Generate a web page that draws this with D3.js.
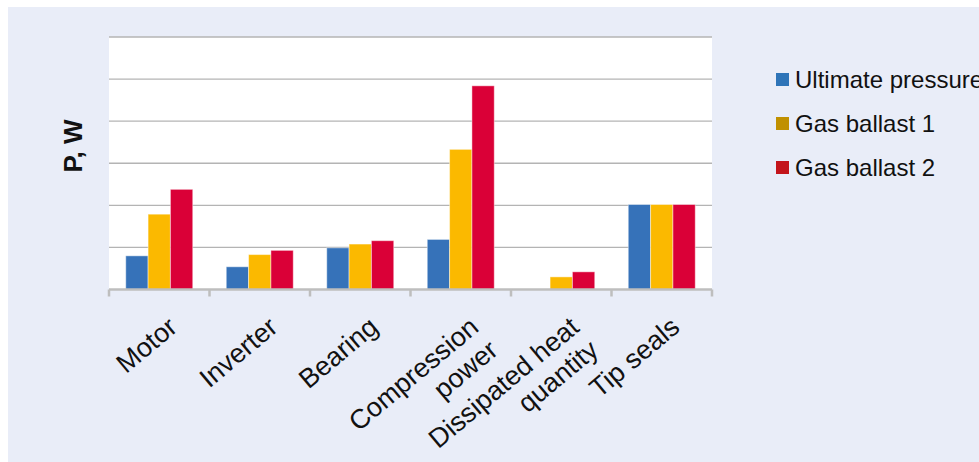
<!DOCTYPE html>
<html>
<head>
<meta charset="utf-8">
<script src="https://cdn.jsdelivr.net/npm/d3@7"></script>
<style>
  html, body { margin: 0; padding: 0; background: #ffffff; }
  svg { display: block; }
  text { font-family: "Liberation Sans", Arial, sans-serif; fill: #111111; }
</style>
</head>
<body>
<svg id="chart" width="979" height="462"></svg>
<script>
// Power breakdown by loss source (relative units, no numeric y labels)
const categories = ["Motor", "Inverter", "Bearing", "Compression\npower", "Dissipated heat\nquantity", "Tip seals"];
const seriesNames = ["Ultimate pressure", "Gas ballast 1", "Gas ballast 2"];
const ultimatePressure = [0.80, 0.54, 0.99, 1.19, 0, 2.02];
const gasBallast1      = [1.79, 0.83, 1.08, 3.33, 0.30, 2.02];
const gasBallast2      = [2.38, 0.93, 1.16, 4.84, 0.42, 2.02];
const yTicks = [0, 1, 2, 3, 4, 5, 6];
const yLabel = "P, W";

const barColors = ["#3672B9", "#FBB900", "#DA0037"];
const legendColors = ["#2E74B8", "#C09000", "#C3141B"];

const seriesValues = [ultimatePressure, gasBallast1, gasBallast2];

const svg = d3.select("#chart");
const W = 979, H = 462;

// page background panel
svg.append("rect").attr("x", 8).attr("y", 7).attr("width", W - 8).attr("height", H - 7)
  .attr("fill", "#E9EDF8");

const plot = { left: 109, right: 712, top: 37, bottom: 289.5 };

const x0 = d3.scaleBand().domain(categories).range([plot.left, plot.right]).padding(0);
const x1 = d3.scaleBand().domain(seriesNames)
  .range([x0.bandwidth() / 6, x0.bandwidth() * 5 / 6]).padding(0);
const y = d3.scaleLinear().domain([0, 6]).range([plot.bottom, plot.top]);

// plot area
svg.append("rect")
  .attr("x", plot.left).attr("y", plot.top)
  .attr("width", plot.right - plot.left).attr("height", plot.bottom - plot.top)
  .attr("fill", "#ffffff");

// horizontal gridlines
svg.append("g").selectAll("line")
  .data(yTicks.filter(t => t > 0))
  .join("line")
  .attr("x1", plot.left).attr("x2", plot.right)
  .attr("y1", d => y(d)).attr("y2", d => y(d))
  .attr("stroke", "#B4B4B4").attr("stroke-width", 1.3);

// bars
const rows = categories.map((c, i) => ({
  cat: c,
  vals: seriesNames.map((s, k) => ({ s, k, v: seriesValues[k][i] }))
}));

svg.append("g").selectAll("g")
  .data(rows)
  .join("g")
  .attr("transform", d => `translate(${x0(d.cat)},0)`)
  .selectAll("rect")
  .data(d => d.vals.filter(v => v.v > 0))
  .join("rect")
  .attr("x", d => x1(d.s))
  .attr("width", x1.bandwidth())
  .attr("y", d => y(d.v))
  .attr("height", d => y(0) - y(d.v))
  .attr("fill", d => barColors[d.k])
  .attr("stroke", "rgba(255,255,255,0.45)")
  .attr("stroke-width", 1);

// category axis
const xAxisG = svg.append("g");
xAxisG.append("line")
  .attr("x1", plot.left).attr("x2", plot.right)
  .attr("y1", y(0)).attr("y2", y(0))
  .attr("stroke", "#BEBEBE").attr("stroke-width", 2.5);
const boundaries = categories.map(c => x0(c)).concat([plot.right]);
xAxisG.selectAll("line.tick")
  .data(boundaries)
  .join("line")
  .attr("class", "tick")
  .attr("x1", d => d).attr("x2", d => d)
  .attr("y1", y(0)).attr("y2", y(0) + 7)
  .attr("stroke", "#BEBEBE").attr("stroke-width", 2.5);

// rotated category labels, one tspan per line, right-aligned
const lineH = 30;
const lbl = xAxisG.selectAll("text.cat")
  .data(categories)
  .join("text")
  .attr("class", "cat")
  .attr("transform", d => `translate(${x0(d) + x0.bandwidth() / 2},${y(0)}) rotate(-40)`)
  .attr("text-anchor", "end")
  .attr("font-size", 27);
lbl.each(function (d) {
  d3.select(this).selectAll("tspan")
    .data(d.split("\n"))
    .join("tspan")
    .attr("x", -11)
    .attr("y", (t, i) => 43.5 + i * lineH)
    .text(t => t);
});

// y axis title
svg.append("text")
  .attr("transform", "translate(82,146) rotate(-90)")
  .attr("text-anchor", "middle")
  .attr("font-size", 26)
  .attr("font-weight", "bold")
  .text(yLabel);

// legend
const legend = svg.append("g").attr("transform", "translate(776,73)");
const li = legend.selectAll("g")
  .data(seriesNames)
  .join("g")
  .attr("transform", (d, i) => `translate(0,${i * 44})`);
li.append("rect")
  .attr("width", 13).attr("height", 13)
  .attr("fill", (d, i) => legendColors[i]);
li.append("text")
  .attr("x", 19).attr("y", 15)
  .attr("font-size", 24)
  .text(d => d);
</script>
</body>
</html>
